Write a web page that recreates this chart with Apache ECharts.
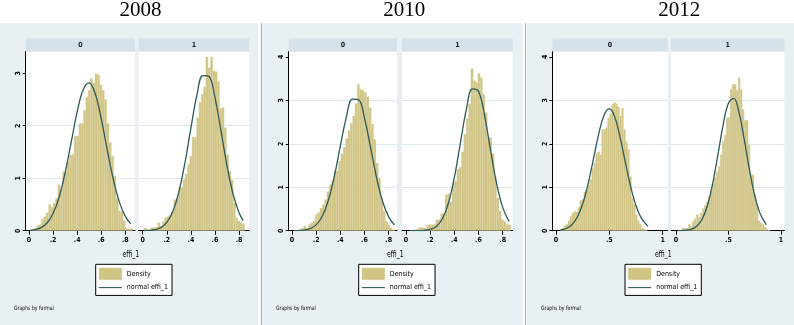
<!DOCTYPE html>
<html><head><meta charset="utf-8">
<script src="https://cdn.jsdelivr.net/npm/echarts@6/dist/echarts.min.js"></script>
<style>html,body{margin:0;padding:0;background:#fff}#c{width:794px;height:325px}</style>
</head><body><div id="c"></div>
<script>
// ---------- data ----------
const years = ['2008', '2010', '2012'];
const groups = ['0', '1'];
const xTicksShort = [0, 0.2, 0.4, 0.6, 0.8];
const xTicksLong = [0, 0.5, 1];
const yTicks2008 = [0, 1, 2, 3];
const yTicksLater = [0, 1, 2, 3, 4];

// histogram bins: first bin start, bin width, densities
const bins2008g0 = {start: 0.0083, width: 0.0193};
const dens2008g0 = [0.02,0.03,0.05,0.10,0.12,0.22,0.27,0.34,0.50,0.45,0.53,0.62,0.88,0.78,1.13,1.13,1.32,1.44,1.45,1.80,1.80,2.04,2.04,2.29,2.54,2.67,2.90,2.82,2.99,2.97,2.78,2.67,2.50,2.04,1.68,1.42,1.04,0.62,0.38,0.37,0.19,0.04,0.04,0.04];
const bins2008g1 = {start: 0.011, width: 0.019};
const dens2008g1 = [0.05,0.02,0.02,0.06,0.06,0.07,0.15,0.08,0.18,0.25,0.27,0.30,0.36,0.59,0.62,0.83,0.83,0.97,1.08,1.26,1.42,1.78,1.78,2.15,2.44,2.60,2.74,3.31,3.10,3.31,3.04,3.03,2.84,2.33,2.34,1.96,1.45,1.13,0.96,0.53,0.24,0.18,0.15,0.13];
const bins2010g0 = {start: 0.019, width: 0.0193};
const dens2010g0 = [0.01,0.01,0.02,0.06,0.10,0.06,0.14,0.18,0.22,0.37,0.42,0.52,0.60,0.72,0.90,1.06,1.15,1.38,1.38,1.60,1.77,1.92,2.12,2.31,2.48,2.64,2.92,3.37,3.25,3.23,3.18,3.08,2.83,2.45,2.10,1.56,1.22,0.74,0.45,0.22,0.14,0.06,0.02];
const bins2010g1 = {start: 0.035, width: 0.0193};
const dens2010g1 = [0.01,0.01,0.02,0.05,0.08,0.06,0.06,0.12,0.14,0.14,0.14,0.25,0.25,0.39,0.39,0.83,0.85,0.66,1.10,1.14,1.41,1.46,1.82,2.22,2.58,2.92,3.73,3.45,3.41,3.62,3.52,3.14,2.72,2.14,2.14,1.77,1.22,0.75,0.45,0.25,0.22,0.14,0.14];
const bins2012g0 = {start: 0.037, width: 0.0186};
const dens2012g0 = [0.015,0.06,0.12,0.15,0.23,0.33,0.41,0.45,0.43,0.54,0.69,0.72,0.89,0.95,1.05,1.18,1.43,1.56,1.77,1.82,1.74,2.33,2.33,2.37,2.60,2.69,2.91,2.95,2.92,2.85,2.64,2.82,2.33,2.05,1.87,1.25,0.75,0.60,0.37,0.23,0.14,0.06,0.02,0.015];
const bins2012g1 = {start: 0.022, width: 0.019};
const dens2012g1 = [0.015,0.015,0.06,0.06,0.06,0.15,0.10,0.22,0.28,0.37,0.31,0.41,0.51,0.58,0.66,0.79,0.91,1.08,1.23,1.37,1.48,1.75,2.05,2.20,2.60,2.60,3.25,3.37,3.37,3.23,3.52,3.25,2.79,2.54,2.54,1.98,1.29,1.29,0.83,0.60,0.23,0.18,0.14,0.08,0.04,0.015];

// normal density curves
const norm2008g0 = [[0.01,0.008],[0.05,0.021],[0.10,0.058],[0.15,0.147],[0.20,0.326],[0.25,0.638],[0.30,1.102],[0.35,1.680],[0.40,2.262],[0.45,2.687],[0.50,2.817],[0.55,2.608],[0.60,2.130],[0.65,1.536],[0.70,0.977],[0.75,0.549],[0.80,0.272],[0.845,0.130]];
const norm2008g1 = [[0.01,0.002],[0.05,0.005],[0.10,0.019],[0.15,0.059],[0.20,0.157],[0.25,0.365],[0.30,0.736],[0.35,1.287],[0.40,1.956],[0.45,2.581],[0.50,2.956],[0.55,2.939],[0.60,2.537],[0.65,1.902],[0.70,1.238],[0.75,0.699],[0.80,0.343],[0.835,0.192]];
const norm2010g0 = [[0.02,0.002],[0.05,0.004],[0.10,0.014],[0.15,0.048],[0.20,0.135],[0.25,0.328],[0.30,0.690],[0.35,1.249],[0.40,1.947],[0.45,2.616],[0.50,3.027],[0.55,3.018],[0.60,2.593],[0.65,1.919],[0.70,1.223],[0.75,0.672],[0.80,0.318],[0.847,0.137]];
const norm2010g1 = [[0.035,0.000],[0.05,0.0003],[0.10,0.002],[0.15,0.008],[0.20,0.030],[0.25,0.097],[0.30,0.269],[0.35,0.625],[0.40,1.223],[0.45,2.016],[0.50,2.796],[0.55,3.265],[0.60,3.209],[0.65,2.655],[0.70,1.850],[0.75,1.085],[0.80,0.536],[0.852,0.214]];
const norm2012g0 = [[0.037,0.015],[0.05,0.020],[0.10,0.056],[0.15,0.142],[0.20,0.315],[0.25,0.619],[0.30,1.073],[0.35,1.644],[0.40,2.225],[0.45,2.660],[0.50,2.810],[0.55,2.621],[0.60,2.160],[0.65,1.572],[0.70,1.012],[0.75,0.575],[0.80,0.289],[0.863,0.100]];
const norm2012g1 = [[0.022,0.001],[0.05,0.003],[0.10,0.011],[0.15,0.037],[0.20,0.109],[0.25,0.271],[0.30,0.587],[0.35,1.095],[0.40,1.762],[0.45,2.449],[0.50,2.939],[0.55,3.045],[0.60,2.723],[0.65,2.102],[0.70,1.401],[0.75,0.806],[0.80,0.400],[0.86,0.142]];

const legendNames = ['Density', 'normal effi_1'];
const xTitle = 'effi_1';
const note = 'Graphs by formal';

// ---------- layout / styling ----------
const NARROW = '"Liberation Sans Narrow","Arial Narrow","DejaVu Sans Condensed",sans-serif';
const SERIF = '"Liberation Serif","Times New Roman",serif';
const BAR_FILL = '#d1c586', BAR_EDGE = '#ddd4a4', CURVE = '#2b5b5a';
const PANEL_BG = '#e9f0f3', STRIP_BG = '#d6e2e9', GRID_LINE = '#dfe8ec';

const subplots = [
  {year:0, g:0, bins:bins2008g0, dens:dens2008g0, curve:norm2008g0, xt:xTicksShort, yt:yTicks2008, left:25.7, right:135, xmin:-0.027, xmax:0.880, ymax:3.41},
  {year:0, g:1, bins:bins2008g1, dens:dens2008g1, curve:norm2008g1, xt:xTicksShort, yt:yTicks2008, left:138.5, right:249.3, xmin:-0.035, xmax:0.885, ymax:3.41},
  {year:1, g:0, bins:bins2010g0, dens:dens2010g0, curve:norm2010g0, xt:xTicksShort, yt:yTicksLater, left:288.7, right:397, xmin:-0.027, xmax:0.869, ymax:4.12},
  {year:1, g:1, bins:bins2010g1, dens:dens2010g1, curve:norm2010g1, xt:xTicksShort, yt:yTicksLater, left:402, right:512.7, xmin:-0.033, xmax:0.883, ymax:4.12},
  {year:2, g:0, bins:bins2012g0, dens:dens2012g0, curve:norm2012g0, xt:xTicksLong, yt:yTicksLater, left:552.3, right:667.7, xmin:-0.035, xmax:1.047, ymax:4.12},
  {year:2, g:1, bins:bins2012g1, dens:dens2012g1, curve:norm2012g1, xt:xTicksLong, yt:yTicksLater, left:671, right:784.3, xmin:-0.048, xmax:1.032, ymax:4.12}
];
const panels = [
  {x:0, w:258, titleX:140.6, xtX:130.8, legX:95.7, noteX:14},
  {x:261, w:261.5, titleX:404.3, xtX:395.3, legX:358.7, noteX:276},
  {x:526.7, w:267.3, titleX:679.3, xtX:663.3, legX:625, noteX:541}
];
const PLOT_TOP = 51.7, PLOT_BOTTOM = 230.7, STRIP_TOP = 38.3;

function tickFmt(v){ if (v === 0) return '0'; if (v === 1) return '1'; return String(v).replace(/^0/, ''); }
function barsFrom(bins, dens){ return dens.map((h, i) => [bins.start + i*bins.width, bins.start + (i+1)*bins.width, h]); }
function renderBar(params, api){
  const a = api.coord([api.value(0), api.value(2)]);
  const b = api.coord([api.value(1), 0]);
  return {type:'rect', shape:{x:a[0], y:a[1], width:b[0]-a[0], height:b[1]-a[1]},
          style:{fill:BAR_FILL, stroke:BAR_EDGE, lineWidth:0.3}};
}

const grid = [], xAxis = [], yAxis = [], series = [], graphic = [];
panels.forEach((p, k) => {
  graphic.push({type:'rect', z:-10, shape:{x:p.x, y:23.3, width:p.w, height:302}, style:{fill:PANEL_BG}});
  graphic.push({type:'text', z:50, x:p.titleX, y:10.5, style:{text:years[k], font:'21px ' + SERIF, fill:'#000', align:'center', verticalAlign:'middle'}});
  graphic.push({type:'text', z:50, x:p.xtX, y:255, scaleX:0.85, style:{text:xTitle, font:'8px ' + NARROW, fill:'#000', align:'center', verticalAlign:'middle'}});
  graphic.push({type:'text', z:50, x:p.noteX, y:308.3, scaleX:0.85, style:{text:note, font:'6px ' + NARROW, fill:'#000', align:'left', verticalAlign:'middle'}});
});
graphic.push({type:'line', z:-5, shape:{x1:261.5, y1:23.3, x2:261.5, y2:325}, style:{stroke:'#a4adb2', lineWidth:1}});
graphic.push({type:'line', z:-5, shape:{x1:525.5, y1:23.3, x2:525.5, y2:325}, style:{stroke:'#a4adb2', lineWidth:1}});

subplots.forEach((s, i) => {
  const first = s.g === 0;
  grid.push({left:s.left, top:PLOT_TOP, width:s.right - s.left, height:PLOT_BOTTOM - PLOT_TOP,
             show:true, backgroundColor:'#fff', borderWidth:0, containLabel:false});
  graphic.push({type:'rect', z:-5, shape:{x:s.left, y:STRIP_TOP, width:s.right - s.left, height:PLOT_TOP - STRIP_TOP}, style:{fill:STRIP_BG}});
  graphic.push({type:'text', z:50, x:(s.left + s.right)/2, y:45, style:{text:groups[s.g], font:'bold 7px ' + NARROW, fill:'#1a1a2a', align:'center', verticalAlign:'middle'}});
  xAxis.push({gridIndex:i, type:'value', min:s.xmin, max:s.xmax,
    axisLine:{show:true, onZero:false, lineStyle:{color:'#000', width:1}},
    axisTick:{show:true, length:4, customValues:s.xt, lineStyle:{color:'#000', width:1}},
    axisLabel:{show:true, customValues:s.xt, formatter:tickFmt, margin:6, fontSize:7, fontWeight:'bold', fontFamily:NARROW, color:'#000'},
    splitLine:{show:false}});
  yAxis.push({gridIndex:i, type:'value', min:0, max:s.ymax, interval:1,
    axisLine:{show:first, onZero:false, lineStyle:{color:'#000', width:1}},
    axisTick:{show:first, length:3, customValues:s.yt, lineStyle:{color:'#000', width:1}},
    axisLabel:{show:first, customValues:s.yt, rotate:90, margin:4, fontSize:7, fontWeight:'bold', fontFamily:NARROW, color:'#000'},
    splitLine:{show:true, showMinLine:false, showMaxLine:false, lineStyle:{color:GRID_LINE, width:1}}});
  series.push({type:'custom', name:legendNames[0], xAxisIndex:i, yAxisIndex:i, data:barsFrom(s.bins, s.dens),
    renderItem:renderBar, encode:{x:[0,1], y:2}, itemStyle:{color:BAR_FILL}, z:2, silent:true, clip:true});
  series.push({type:'line', name:legendNames[1], xAxisIndex:i, yAxisIndex:i, data:s.curve, smooth:0.4,
    symbol:'none', showSymbol:false, lineStyle:{color:CURVE, width:1.3}, itemStyle:{color:CURVE}, z:3, silent:true});
});

const legend = panels.map(p => ({
  left:p.legX, top:264.3, orient:'vertical', itemWidth:23, itemHeight:12, itemGap:3,
  padding:[3.5, 4, 3, 2.6], borderColor:'#000', borderWidth:1, backgroundColor:'#fff', borderRadius:0,
  selectedMode:false, textStyle:{fontFamily:NARROW, fontSize:7, color:'#000'},
  data:[{name:legendNames[0], icon:'rect', itemStyle:{color:BAR_FILL, borderWidth:0}},
        {name:legendNames[1], itemStyle:{color:'rgba(0,0,0,0)', borderColor:'rgba(0,0,0,0)', borderWidth:0}, lineStyle:{color:CURVE, width:1.1}}]
}));

const chart = echarts.init(document.getElementById('c'), null, {renderer:'canvas', width:794, height:325});
chart.setOption({backgroundColor:'#fff', animation:false, grid, xAxis, yAxis, series, legend, graphic});
</script></body></html>
